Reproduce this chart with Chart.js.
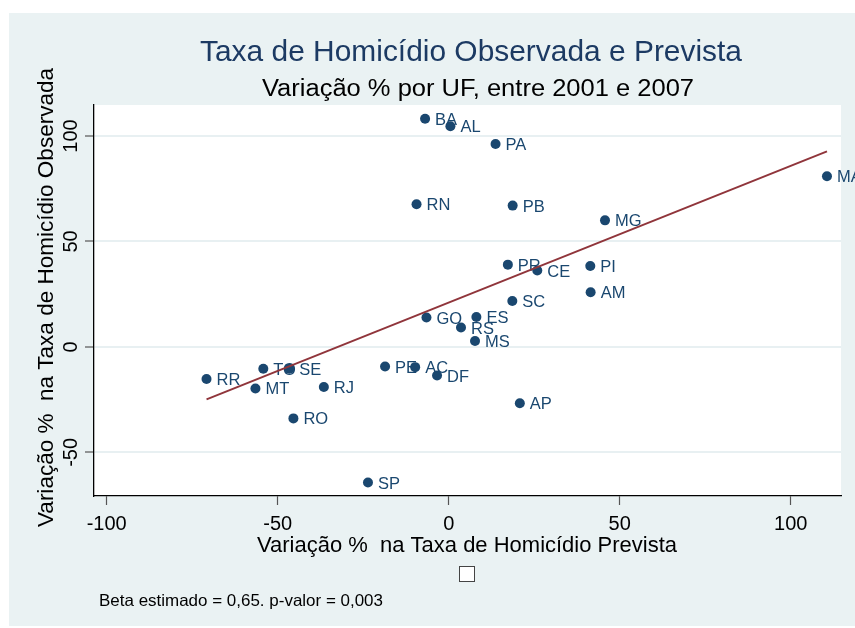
<!DOCTYPE html>
<html>
<head>
<meta charset="utf-8">
<script src="https://cdn.jsdelivr.net/npm/chart.js@4.4.1/dist/chart.umd.min.js"></script>
<style>
  html, body { margin: 0; padding: 0; background: #fff; }
  #grafico { display: block; }
</style>
</head>
<body>
<canvas id="grafico" width="855" height="628"></canvas>
<script>
// dados (variacao % 2001-2007 por UF)
const ufs = ['BA','AL','PA','RN','PB','PR','CE','SC','MA','MG','PI','AM','GO','ES','RS','MS',
             'TO','SE','PE','AC','DF','RJ','RO','AP','SP','RR','MT'];
const taxaPrevista = [-6.9, 0.5, 13.7, -9.4, 18.7, 17.3, 25.9, 18.6, 110.6, 45.7, 41.4, 41.5, -6.5, 8.1, 3.6, 7.7,
                      -54.2, -46.6, -18.6, -9.8, -3.4, -36.5, -45.4, 20.8, -23.6, -70.8, -56.5];
const taxaObservada = [108.2, 104.6, 96.2, 67.6, 67.0, 39.0, 36.2, 21.8, 80.9, 60.0, 38.4, 25.9, 13.9, 14.2, 9.2, 2.8,
                       -10.4, -10.4, -9.3, -9.6, -13.6, -19.0, -33.9, -26.7, -64.3, -15.2, -19.7];
// reta ajustada (lfit)
const ajusteX = [-70.8, 110.6];
const ajusteY = [-24.9, 92.7];
const ticksX = [-100, -50, 0, 50, 100];
const ticksY = [-50, 0, 50, 100];

const titulo = 'Taxa de Homicídio Observada e Prevista';
const subtitulo = 'Variação % por UF, entre 2001 e 2007';
const tituloX = 'Variação %  na Taxa de Homicídio Prevista';
const tituloY = 'Variação %  na Taxa de Homicídio Observada';
const nota = 'Beta estimado = 0,65. p-valor = 0,003';

const FONTE = '"Liberation Sans", Arial, sans-serif';
const AZUL = '#1A476F';

function texto(ctx, s, x, y, tam, largura, cor, alinh, rot) {
  ctx.save();
  ctx.font = tam + 'px ' + FONTE;
  const w = ctx.measureText(s).width;
  const k = largura ? largura / w : 1;
  ctx.translate(x, y);
  if (rot) ctx.rotate(rot);
  ctx.scale(k, 1);
  ctx.textAlign = alinh || 'center';
  ctx.textBaseline = 'alphabetic';
  ctx.fillStyle = cor;
  ctx.fillText(s, 0, 0);
  ctx.restore();
}

const fundo = {
  id: 'fundo',
  beforeDraw(chart) {
    const { ctx, chartArea: a } = chart;
    ctx.save();
    ctx.fillStyle = '#ffffff';
    ctx.fillRect(0, 0, chart.width, chart.height);
    ctx.fillStyle = '#EAF2F3';
    ctx.fillRect(9, 13, 846, 613);
    ctx.fillStyle = '#ffffff';
    ctx.fillRect(a.left, a.top, a.right - a.left, a.bottom - a.top);
    ctx.restore();
  }
};

// rotulos das UFs, desenhados antes dos pontos
const rotulos = {
  id: 'rotulos',
  beforeDatasetsDraw(chart) {
    const ctx = chart.ctx;
    const meta = chart.getDatasetMeta(0);
    ctx.save();
    ctx.font = '16.5px ' + FONTE;
    ctx.fillStyle = AZUL;
    ctx.textAlign = 'left';
    ctx.textBaseline = 'middle';
    meta.data.forEach((p, i) => {
      ctx.fillText(ufs[i], p.x + 10, p.y + 1.5);
    });
    ctx.restore();
  }
};

const textos = {
  id: 'textos',
  afterDraw(chart) {
    const ctx = chart.ctx;
    const sx = chart.scales.x, sy = chart.scales.y;
    texto(ctx, titulo, 471, 61, 29, 542, '#1C3A63');
    texto(ctx, subtitulo, 478, 96, 23, 432, '#000');
    ticksX.forEach(v => texto(ctx, String(v), sx.getPixelForValue(v), 530, 20, 0, '#000'));
    ticksY.forEach(v => texto(ctx, String(v), 77, sy.getPixelForValue(v), 20, 0, '#000', 'center', -Math.PI / 2));
    texto(ctx, tituloX, 467, 552, 22, 420, '#000');
    texto(ctx, tituloY, 53, 297.5, 22, 459, '#000', 'center', -Math.PI / 2);
    // caixa vazia da legenda
    ctx.save();
    ctx.fillStyle = '#fff';
    ctx.strokeStyle = '#444';
    ctx.lineWidth = 1;
    ctx.fillRect(459.5, 566.5, 15, 15);
    ctx.strokeRect(459.5, 566.5, 15, 15);
    ctx.restore();
    texto(ctx, nota, 99, 606, 16.5, 284, '#000', 'left');
  }
};

const ctx = document.getElementById('grafico').getContext('2d');
new Chart(ctx, {
  type: 'scatter',
  data: {
    datasets: [{
      label: 'UF',
      data: ufs.map((u, i) => ({ x: taxaPrevista[i], y: taxaObservada[i] })),
      backgroundColor: AZUL,
      borderColor: AZUL,
      borderWidth: 0,
      pointRadius: 5,
      pointHoverRadius: 5,
      order: 1
    }, {
      type: 'line',
      label: 'ajuste',
      data: ajusteX.map((x, i) => ({ x: x, y: ajusteY[i] })),
      borderColor: '#90353B',
      borderWidth: 2,
      pointRadius: 0,
      fill: false,
      order: 0
    }]
  },
  options: {
    responsive: false,
    animation: false,
    events: [],
    layout: { padding: { left: 94, top: 105, right: 14, bottom: 132 } },
    plugins: { legend: { display: false }, tooltip: { enabled: false } },
    scales: {
      x: {
        type: 'linear',
        min: -103.7,
        max: 114.7,
        afterBuildTicks: s => { s.ticks = ticksX.map(v => ({ value: v })); },
        afterFit: s => { s.height = 0; },
        ticks: { display: false },
        grid: { drawOnChartArea: false, drawTicks: true, tickLength: 9, tickColor: '#555', tickWidth: 1.2 },
        border: { display: true, color: '#000', width: 1.3 }
      },
      y: {
        type: 'linear',
        min: -70.7,
        max: 114.7,
        afterBuildTicks: s => { s.ticks = ticksY.map(v => ({ value: v })); },
        afterFit: s => { s.width = 0; },
        ticks: { display: false },
        grid: { color: '#E8F0F2', lineWidth: 2, drawTicks: true, tickLength: 9, tickColor: '#555', tickWidth: 1.2 },
        border: { display: true, color: '#000', width: 1.3 }
      }
    }
  },
  plugins: [fundo, rotulos, textos]
});
</script>
</body>
</html>
